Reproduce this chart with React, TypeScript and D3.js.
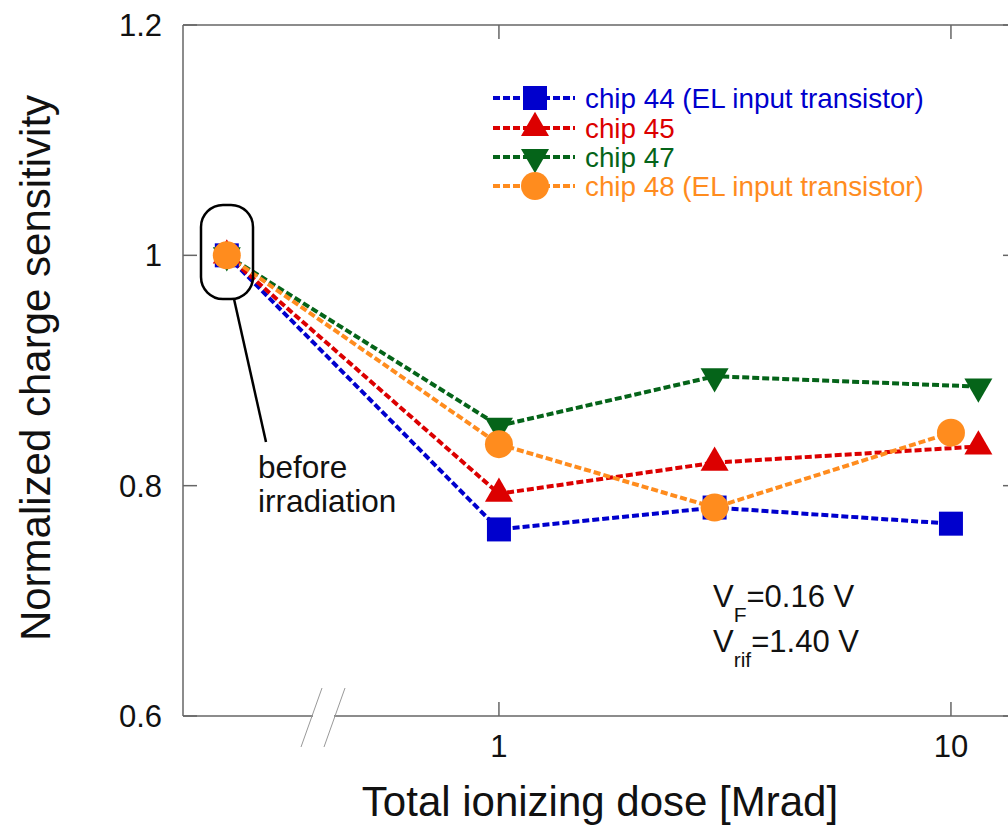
import React from "react";
import * as d3 from "d3";

const W = 1008;
const H = 830;

// Data
const seriesNames = ["chip 44 (EL input transistor)", "chip 45", "chip 47", "chip 48 (EL input transistor)"];
const seriesColors = ["rgb(0,0,205)", "rgb(220,0,0)", "rgb(5,100,25)", "rgb(255,140,30)"];
const seriesMarkers = ["square", "triangleUp", "triangleDown", "circle"];

const doses44 = [0.25, 1, 3, 10];
const values44 = [1.0, 0.762, 0.781, 0.767];
const doses45 = [0.25, 1, 3, 11.5];
const values45 = [1.0, 0.793, 0.82, 0.834];
const doses47 = [0.25, 1, 3, 11.5];
const values47 = [1.0, 0.852, 0.895, 0.886];
const doses48 = [0.25, 1, 3, 10];
const values48 = [1.0, 0.836, 0.781, 0.846];

const seriesDoses = [doses44, doses45, doses47, doses48];
const seriesValues = [values44, values45, values47, values48];

const yTicks = [0.6, 0.8, 1.0, 1.2];
const yTickLabels = ["0.6", "0.8", "1", "1.2"];
const xTicks = [1, 10];
const xTickLabels = ["1", "10"];

const FONT = "'Liberation Sans', Arial, Helvetica, sans-serif";

function markerPath(kind: string): string {
  const sym = d3.symbol();
  if (kind === "square") return sym.type(d3.symbolSquare).size(576)() as string;
  if (kind === "circle") return sym.type(d3.symbolCircle).size(Math.PI * 14 * 14)() as string;
  return sym.type(d3.symbolTriangle).size(340)() as string;
}

function Marker({ kind, x, y, color }: { kind: string; x: number; y: number; color: string }) {
  const rot = kind === "triangleDown" ? 180 : 0;
  return (
    <path
      d={markerPath(kind)}
      transform={`translate(${x},${y}) rotate(${rot})`}
      fill={color}
      stroke="none"
    />
  );
}

export default function App() {
  const left = 183;
  const right = 1017;
  const top = 25;
  const bottom = 716;

  const x = d3.scaleLog().domain([0.2, 14]).range([left, right]);
  const y = d3.scaleLinear().domain([0.6, 1.2]).range([bottom, top]);

  const line = d3
    .line<[number, number]>()
    .x((d) => x(d[0]))
    .y((d) => y(d[1]));

  const frame = "#666";
  const tickLen = 14;
  const dash = "7 3";

  const legendX0 = 493;
  const legendX1 = 575;
  const legendMX = 535;
  const legendY = [98, 128, 157, 186];

  return (
    <svg
      width={W}
      height={H}
      viewBox={`0 0 ${W} ${H}`}
      style={{ position: "absolute", left: 0, top: 0, background: "#fff" }}
      fontFamily={FONT}
    >
      <rect x={0} y={0} width={W} height={H} fill="#fff" />

      {/* frame */}
      <g stroke={frame} strokeWidth={1.5} fill="none">
        <line x1={left} y1={top} x2={right} y2={top} />
        <line x1={left} y1={bottom} x2={right} y2={bottom} />
        <line x1={left} y1={top} x2={left} y2={bottom} />
        <line x1={right} y1={top} x2={right} y2={bottom} />
        {yTicks.map((t) => (
          <g key={"yt" + t}>
            <line x1={left} y1={y(t)} x2={left + tickLen} y2={y(t)} />
            <line x1={right} y1={y(t)} x2={right - tickLen} y2={y(t)} />
          </g>
        ))}
        {xTicks.map((t) => (
          <g key={"xt" + t}>
            <line x1={x(t)} y1={bottom} x2={x(t)} y2={bottom - tickLen} />
            <line x1={x(t)} y1={top} x2={x(t)} y2={top + tickLen} />
          </g>
        ))}
      </g>

      {/* axis break */}
      <rect x={313} y={690} width={21} height={54} fill="#fff" />
      <g stroke="#999" strokeWidth={1}>
        <line x1={301} y1={747} x2={322} y2={688} />
        <line x1={324} y1={747} x2={345} y2={688} />
      </g>

      {/* tick labels */}
      <g fontSize={31} fill="#111">
        {yTicks.map((t, i) => (
          <text key={"yl" + t} x={162} y={y(t) + 11} textAnchor="end">
            {yTickLabels[i]}
          </text>
        ))}
        {xTicks.map((t, i) => (
          <text key={"xl" + t} x={x(t)} y={757} textAnchor="middle">
            {xTickLabels[i]}
          </text>
        ))}
      </g>

      {/* axis titles */}
      <text x={600} y={816} fontSize={42} textAnchor="middle" fill="#111">
        Total ionizing dose [Mrad]
      </text>
      <text
        transform={`translate(50,${368}) rotate(-90)`}
        fontSize={42}
        textAnchor="middle"
        fill="#111"
      >
        Normalized charge sensitivity
      </text>

      {/* series lines */}
      {seriesNames.map((name, i) => {
        const pts = seriesDoses[i].map((d, j) => [d, seriesValues[i][j]] as [number, number]);
        return (
          <path
            key={"l" + name}
            d={line(pts) as string}
            fill="none"
            stroke={seriesColors[i]}
            strokeWidth={4}
            strokeDasharray={dash}
          />
        );
      })}

      {/* markers */}
      {seriesNames.map((name, i) => (
        <g key={"m" + name}>
          {seriesDoses[i].map((d, j) => (
            <Marker
              key={j}
              kind={seriesMarkers[i]}
              x={x(d)}
              y={y(seriesValues[i][j])}
              color={seriesColors[i]}
            />
          ))}
        </g>
      ))}

      {/* annotation */}
      <rect x={201} y={205} width={52} height={94} rx={22} ry={22} fill="none" stroke="#000" strokeWidth={2.5} />
      <line x1={234} y1={299} x2={266} y2={442} stroke="#000" strokeWidth={2.5} />
      <text x={258} y={478} fontSize={31.5} fill="#111">before</text>
      <text x={258} y={512} fontSize={31.5} fill="#111">irradiation</text>

      {/* legend */}
      {seriesNames.map((name, i) => (
        <g key={"lg" + name}>
          <line
            x1={legendX0}
            y1={legendY[i]}
            x2={legendX1}
            y2={legendY[i]}
            stroke={seriesColors[i]}
            strokeWidth={4}
            strokeDasharray={dash}
          />
          <Marker kind={seriesMarkers[i]} x={legendMX} y={legendY[i]} color={seriesColors[i]} />
          <text x={585} y={legendY[i] + 10} fontSize={27.8} fill={seriesColors[i]}>
            {name}
          </text>
        </g>
      ))}

      {/* voltage annotation */}
      <text x={713} y={607} fontSize={31} fill="#111">
        <tspan>V</tspan>
        <tspan fontSize={21} dy={15}>F</tspan>
        <tspan dy={-15}>=0.16 V</tspan>
      </text>
      <text x={713} y={652} fontSize={31} fill="#111">
        <tspan>V</tspan>
        <tspan fontSize={21} dy={15}>rif</tspan>
        <tspan dy={-15}>=1.40 V</tspan>
      </text>
    </svg>
  );
}
